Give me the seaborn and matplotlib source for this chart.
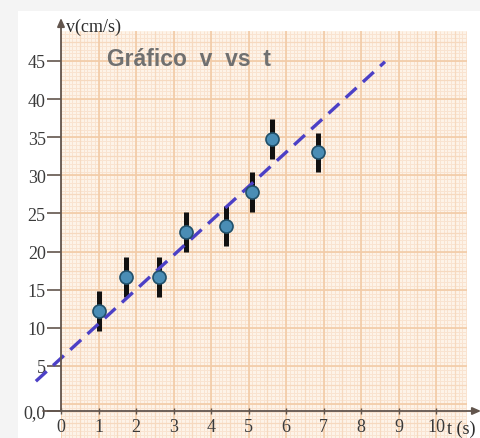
import numpy as np
import pandas as pd
import matplotlib
matplotlib.use("Agg")
import matplotlib.pyplot as plt
import seaborn as sns

# ---- data ----
t_values = [1.01, 1.73, 2.61, 3.33, 4.39, 5.09, 5.63, 6.85]
v_values = [12.2, 16.7, 16.7, 22.6, 23.4, 27.8, 34.8, 33.0]
v_errors = [2.6, 2.6, 2.6, 2.6, 2.6, 2.6, 2.6, 2.5]
fit_t = [-0.67, 8.64]
fit_v = [3.0, 44.9]
x_ticks = [0, 1, 2, 3, 4, 5, 6, 7, 8, 9, 10]
y_ticks = [5, 10, 15, 20, 25, 30, 35, 40, 45]
y_tick_labels = ["5", "10", "15", "20", "25", "30", "35", "40", "45"]
title_text = "Gráfico  v  vs  t"
y_axis_label = "v(cm/s)"
x_axis_label = "t (s)"
origin_label = "0,0"

df = pd.DataFrame({"t": t_values, "v": v_values, "err": v_errors})
fit_df = pd.DataFrame({"t": fit_t, "v": fit_v})

W, H = 481, 439
fig = plt.figure(figsize=(W / 100, H / 100), dpi=100, facecolor="#f4f4f4")
# white page
fig.patches.append(plt.Rectangle((18 / W, 0), 1, (H - 12) / H, transform=fig.transFigure,
                                 facecolor="white", edgecolor="none", zorder=-10))

# axes covering the graph paper
left_px, right_px, top_px, bottom_px = 61, 467, 32, 439
ax = fig.add_axes([left_px / W, (H - bottom_px) / H, (right_px - left_px) / W, (bottom_px - top_px) / H])
ax.set_zorder(2)
xpx = 37.5
ypx = 7.625
v0_px = 405.1
xlim = (0, (right_px - left_px) / xpx)
ylim = ((v0_px - bottom_px) / ypx, (v0_px - top_px) / ypx)
ax.set_xlim(*xlim)
ax.set_ylim(*ylim)
ax.set_facecolor("#fdf3e8")
axis_v = (v0_px - 412) / ypx

# graph paper grid
minor_x = np.arange(0, xlim[1] + 0.01, 0.1)
minor_y = np.arange(-5, ylim[1] + 0.01, 0.5)
ax.vlines(minor_x, *ylim, colors="#f9e3d0", lw=0.7, zorder=0.5)
ax.hlines(minor_y, *xlim, colors="#f9e3d0", lw=0.7, zorder=0.5)
ax.vlines(np.arange(0.5, xlim[1], 1.0), *ylim, colors="#f6d9bf", lw=0.9, zorder=0.6)
ax.hlines(np.arange(-2.5, ylim[1], 5.0), *xlim, colors="#f6d9bf", lw=0.9, zorder=0.6)
ax.vlines(np.arange(0, xlim[1], 1.0), *ylim, colors="#f2cba7", lw=1.2, zorder=0.7)
ax.hlines(np.arange(-5, ylim[1], 5.0), *xlim, colors="#f2cba7", lw=1.2, zorder=0.7)

for s in ax.spines.values():
    s.set_visible(False)
ax.spines["bottom"].set_position(("data", axis_v))

axis_color = "#62554d"
# axes lines with arrows
ax.annotate("", xy=(0, (v0_px - 19) / ypx), xytext=(0, axis_v),
            arrowprops=dict(arrowstyle="-|>,head_length=0.5,head_width=0.22", color=axis_color, lw=1.3,
                            shrinkA=0, shrinkB=0), annotation_clip=False, zorder=6)
ax.annotate("", xy=((481 - left_px) / xpx, axis_v), xytext=((43 - left_px) / xpx, axis_v),
            arrowprops=dict(arrowstyle="-|>,head_length=0.5,head_width=0.22", color=axis_color, lw=1.3,
                            shrinkA=0, shrinkB=0), annotation_clip=False, zorder=6)

# ticks
ax.set_xticks(x_ticks)
ax.set_xticklabels([str(x) for x in x_ticks])
ax.set_yticks([axis_v] + y_ticks)
ax.set_yticklabels([origin_label] + y_tick_labels)
serif = ["Liberation Serif", "DejaVu Serif"]
for lab in ax.get_xticklabels() + ax.get_yticklabels():
    lab.set_family(serif)
    lab.set_fontsize(13)
    lab.set_color("#3a3a3a")
ax.tick_params(axis="y", direction="out", length=10, width=1.2, color=axis_color, pad=1)
ax.tick_params(axis="x", direction="inout", length=4, width=1.0, color=axis_color, pad=3)

# data
ax.errorbar(df["t"], df["v"], yerr=df["err"], fmt="none", ecolor="#111111", elinewidth=3.6,
            capsize=0, zorder=3)
sns.lineplot(data=fit_df, x="t", y="v", ax=ax, color="#4c40c6", lw=2.4, zorder=4)
ax.lines[-1].set_dashes([4.4, 2.6])
ax.lines[-1].set_clip_on(False)
sns.scatterplot(data=df, x="t", y="v", ax=ax, s=88, color="#4a8db5", edgecolor="#21506a",
                linewidth=1.2, zorder=5)
ax.set_xlabel("")
ax.set_ylabel("")

# labels
fig.text(66 / W, 1 - 27 / H, y_axis_label, family=serif, fontsize=13, color="#2e2e2e", va="center", ha="left")
fig.text(447 / W, 1 - 429 / H, x_axis_label, family=serif, fontsize=13, color="#2e2e2e", va="center", ha="left")
fig.text(107 / W, 1 - 60 / H, title_text, family=["Liberation Sans", "DejaVu Sans"], fontsize=16.5,
         fontweight="bold", color="#707070", va="center", ha="left")

fig.savefig("out.png", dpi=100, facecolor=fig.get_facecolor())
